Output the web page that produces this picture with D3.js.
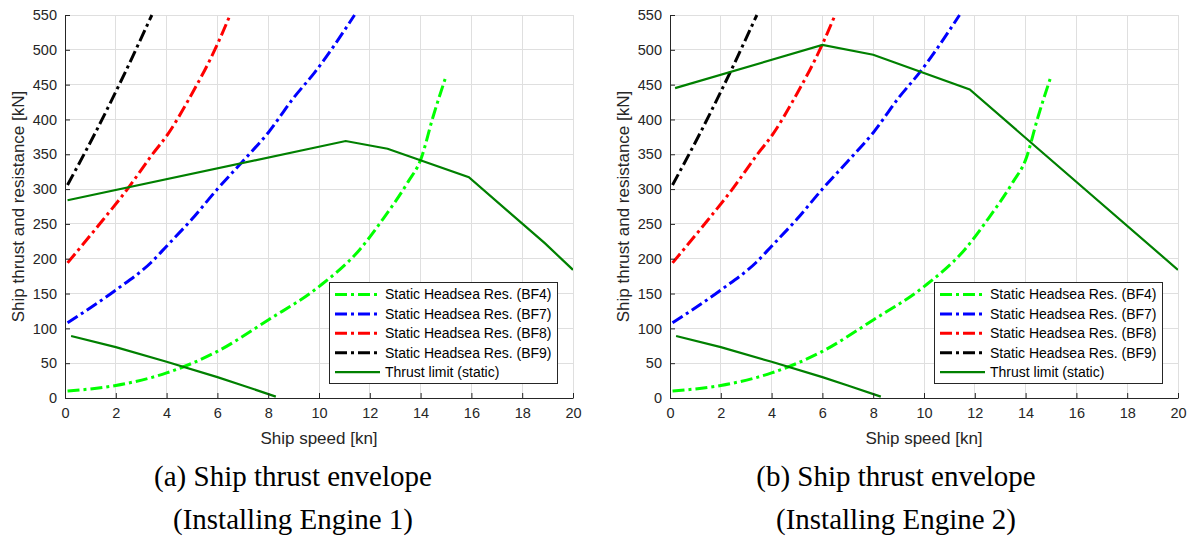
<!DOCTYPE html>
<html>
<head>
<meta charset="utf-8">
<script src="https://cdn.jsdelivr.net/npm/d3@7"></script>
<style>
  html, body { margin: 0; padding: 0; background: #fff; }
  svg { display: block; }
</style>
</head>
<body>
<svg id="chart" width="1194" height="537"></svg>
<script>
// ---------------- data ----------------
const speedTicks = [0, 2, 4, 6, 8, 10, 12, 14, 16, 18, 20];
const forceTicks = [0, 50, 100, 150, 200, 250, 300, 350, 400, 450, 500, 550];

// static head-sea resistance curves [speed kn, force kN]
const resBF4 = [[0.1,10],[2,18],[4,36],[6,67],[8,112],[10,160],[11.6,213],[12.5,256],[13.5,310],[14,342],[14.5,405],[15,462]];
const resBF7 = [[0.1,108],[2,155],[3.4,195],[4,218],[5,257],[6,300],[7,340],[8,381],[9,431],[9.84,468],[11.4,550]];
const resBF8 = [[0.1,194],[1.5,256],[2.5,302],[3.4,348],[4.07,380],[4.86,428],[6,508],[6.5,550]];
const resBF9 = [[0.1,306],[1.18,380],[2.36,467],[3.42,550]];

// thrust limits (static)
const thrustEngine1 = [[0.1,284],[11.05,369],[12.7,358],[15.9,317],[18.9,222],[20,184]];
const thrustEngine2 = [[0.2,445],[6,507],[8,493],[11.8,443],[20,184]];
const thrustLower = [[0.24,89],[2,73],[4,52],[6,30],[7,18],[8.3,2]];

const seriesNames = ["Static Headsea Res. (BF4)", "Static Headsea Res. (BF7)",
                     "Static Headsea Res. (BF8)", "Static Headsea Res. (BF9)", "Thrust limit (static)"];
const seriesColors = ["#00ff00", "#0000ff", "#ff0000", "#000000", "#008000"];

const captions = [["(a) Ship thrust envelope", "(Installing Engine 1)"],
                  ["(b) Ship thrust envelope", "(Installing Engine 2)"]];

// ---------------- drawing ----------------
const svg = d3.select("#chart");
const DASH = "12,4,3,4";

function drawPanel(idx, left, thrustUpper) {
  const top = 15, bottom = 398, right = left + 508;
  const x = d3.scaleLinear().domain([0, 20]).range([left, right]);
  const y = d3.scaleLinear().domain([0, 550]).range([bottom, top]);
  const g = svg.append("g");

  // grid
  g.append("g").selectAll("line").data(speedTicks).join("line")
    .attr("x1", d => x(d)).attr("x2", d => x(d))
    .attr("y1", top).attr("y2", bottom)
    .attr("stroke", "#dfdfdf").attr("stroke-width", 1)
    .attr("shape-rendering", "crispEdges");
  g.append("g").selectAll("line").data(forceTicks).join("line")
    .attr("x1", left).attr("x2", right)
    .attr("y1", d => y(d)).attr("y2", d => y(d))
    .attr("stroke", "#dfdfdf").attr("stroke-width", 1)
    .attr("shape-rendering", "crispEdges");

  // clip
  const clipId = "clip" + idx;
  svg.append("clipPath").attr("id", clipId).append("rect")
    .attr("x", left).attr("y", top - 2).attr("width", right - left).attr("height", bottom - top + 2);

  const line = d3.line().x(d => x(d[0])).y(d => y(d[1]));
  const smooth = d3.line().x(d => x(d[0])).y(d => y(d[1])).curve(d3.curveMonotoneX);
  const plot = g.append("g").attr("clip-path", `url(#${clipId})`);

  const resCurves = [resBF4, resBF7, resBF8, resBF9];
  resCurves.forEach((c, i) => {
    plot.append("path").attr("d", smooth(c))
      .attr("fill", "none").attr("stroke", seriesColors[i])
      .attr("stroke-width", 3).attr("stroke-dasharray", DASH);
  });
  [thrustUpper, thrustLower].forEach(c => {
    plot.append("path").attr("d", line(c))
      .attr("fill", "none").attr("stroke", seriesColors[4])
      .attr("stroke-width", 2.2);
  });

  // axes
  const xAxis = d3.axisBottom(x).tickValues(speedTicks).tickSizeInner(-5).tickSizeOuter(0).tickPadding(10);
  const yAxis = d3.axisLeft(y).tickValues(forceTicks).tickSizeInner(-5).tickSizeOuter(0).tickPadding(8);
  const ax = g.append("g").attr("transform", `translate(0,${bottom})`).call(xAxis);
  const ay = g.append("g").attr("transform", `translate(${left},0)`).call(yAxis);
  [ax, ay].forEach(a => {
    a.select(".domain").attr("stroke", "#262626");
    a.selectAll(".tick line").attr("stroke", "#262626");
    a.selectAll(".tick text").attr("fill", "#262626")
      .style("font-family", "Arial, 'Liberation Sans', sans-serif").style("font-size", "14.5px");
  });

  // axis labels
  g.append("text").attr("x", (left + right) / 2).attr("y", 444)
    .attr("text-anchor", "middle").attr("fill", "#262626")
    .style("font-family", "Arial, 'Liberation Sans', sans-serif").style("font-size", "17px")
    .text("Ship speed [kn]");
  g.append("text").attr("transform", `translate(${left - 41},${(top + bottom) / 2}) rotate(-90)`)
    .attr("text-anchor", "middle").attr("fill", "#262626")
    .style("font-family", "Arial, 'Liberation Sans', sans-serif").style("font-size", "17px")
    .text("Ship thrust and resistance [kN]");

  // legend
  const lx = left + 264, ly = 282, lw = 228, lh = 101;
  const lg = g.append("g");
  lg.append("rect").attr("x", lx).attr("y", ly).attr("width", lw).attr("height", lh)
    .attr("fill", "#fff").attr("stroke", "#262626").attr("stroke-width", 1)
    .attr("shape-rendering", "crispEdges");
  seriesNames.forEach((name, i) => {
    const yy = ly + 12.5 + i * 19.4;
    lg.append("line").attr("x1", lx + 6).attr("x2", lx + 51).attr("y1", yy).attr("y2", yy)
      .attr("stroke", seriesColors[i]).attr("stroke-width", i < 4 ? 3 : 2.2)
      .attr("stroke-dasharray", i < 4 ? DASH : null);
    lg.append("text").attr("x", lx + 56).attr("y", yy).attr("dy", "0.35em")
      .attr("fill", "#000")
      .style("font-family", "Arial, 'Liberation Sans', sans-serif").style("font-size", "14px")
      .text(name);
  });

  // caption
  const cx = idx === 0 ? 293 : 896;
  captions[idx].forEach((t, i) => {
    svg.append("text").attr("x", cx).attr("y", 486 + i * 43)
      .attr("text-anchor", "middle").attr("fill", "#000")
      .style("font-family", "'Liberation Serif', 'Times New Roman', serif").style("font-size", "29px")
      .text(t);
  });
}

drawPanel(0, 65, thrustEngine1);
drawPanel(1, 670, thrustEngine2);
</script>
</body>
</html>
